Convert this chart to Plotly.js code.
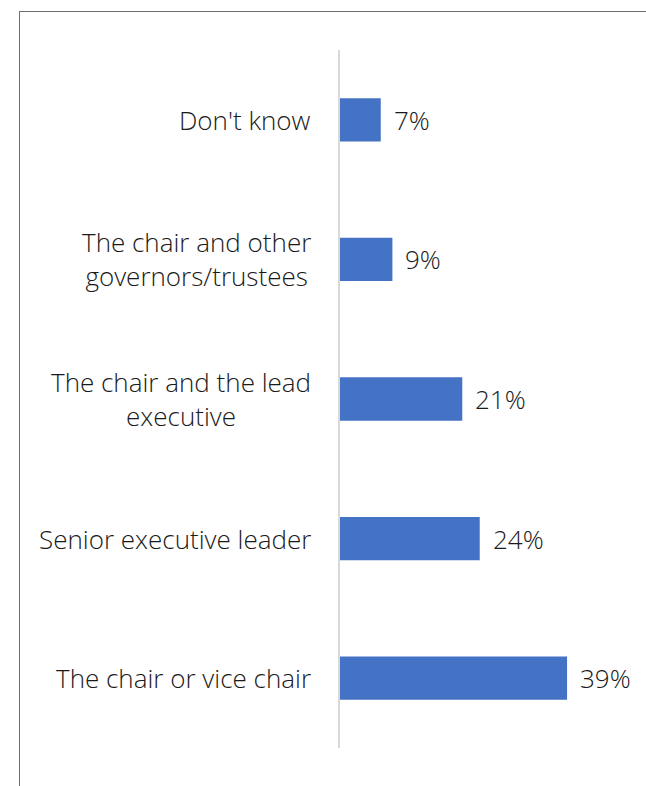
<!DOCTYPE html>
<html><head><meta charset="utf-8">
<script src="https://cdn.plot.ly/plotly-3.0.1.min.js"></script>
<style>
html,body{margin:0;padding:0;background:#fff;}
#wrap{position:relative;width:646px;height:786px;}
#chart{position:absolute;left:0;top:0;width:646px;height:786px;}
#frame{position:absolute;left:19px;top:11px;width:640px;height:790px;border-left:1px solid #6e6e6e;border-top:1px solid #6e6e6e;pointer-events:none;}
</style></head>
<body>
<div id="wrap"><div id="chart"></div><div id="frame"></div></div>
<script>
const categories = ["The chair or vice chair", "Senior executive leader", "The chair and the lead<br>executive", "The chair and other<br>governors/trustees", "Don't know"];
const values = [39, 24, 21, 9, 7];
const valueLabels = ["39%", "24%", "21%", "9%", "7%"];

const FONT = "Open Sans, sans-serif";
const trace = {
  type: "bar", orientation: "h",
  x: values, y: categories,
  marker: {color: "#4472C4"},
  hoverinfo: "none"
};
const annotations = [];
categories.forEach((c, i) => {
  annotations.push({x: 0, y: c, xref: "x", yref: "y", text: c, showarrow: false,
    xanchor: "right", yanchor: "middle", align: "center", xshift: -27,
    font: {family: FONT, size: 26, color: "#1a1a1a", weight: 300}});
  annotations.push({x: values[i], y: c, xref: "x", yref: "y", text: valueLabels[i], showarrow: false,
    xanchor: "left", yanchor: "middle", xshift: 11,
    font: {family: FONT, size: 26, color: "#1a1a1a", weight: 300}});
});
const layout = {
  width: 646, height: 786,
  margin: {l: 340, r: 44, t: 50, b: 38},
  paper_bgcolor: "#fff", plot_bgcolor: "#fff",
  showlegend: false,
  bargap: 0.69,
  xaxis: {range: [0, 45], showgrid: false, zeroline: false, showticklabels: false, showline: false, fixedrange: true},
  yaxis: {showticklabels: false, showgrid: false, zeroline: false, showline: true, linecolor: "#d9d9d9", linewidth: 2, ticks: "", fixedrange: true},
  annotations: annotations
};
Plotly.newPlot("chart", [trace], layout, {displayModeBar: false, staticPlot: true});
</script>
</body></html>
